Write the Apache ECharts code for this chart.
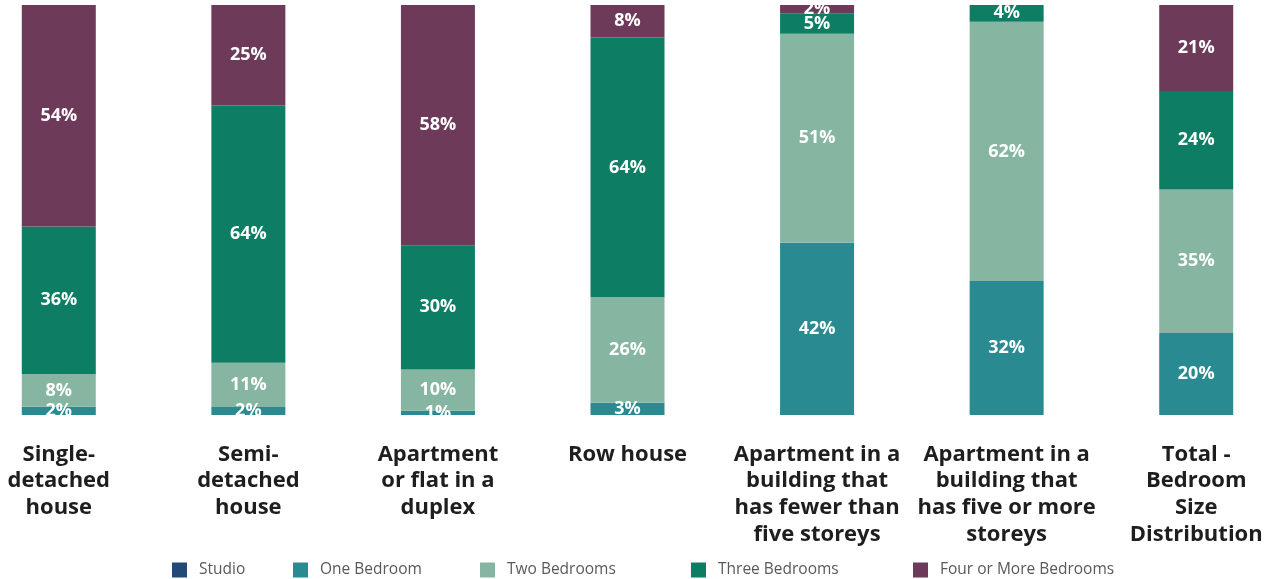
<!DOCTYPE html>
<html>
<head>
<meta charset="utf-8">
<script src="https://cdn.jsdelivr.net/npm/echarts@6/dist/echarts.min.js"></script>
<style>
html, body { margin: 0; padding: 0; background: #fff; }
#main { width: 1271px; height: 579px; }
</style>
</head>
<body>
<div id="main"></div>
<script>
// dwelling types (line breaks as in the picture)
var categories = [
    'Single-\ndetached\nhouse',
    'Semi-\ndetached\nhouse',
    'Apartment\nor flat in a\nduplex',
    'Row house',
    'Apartment in a\nbuilding that\nhas fewer than\nfive storeys',
    'Apartment in a\nbuilding that\nhas five or more\nstoreys',
    'Total -\nBedroom\nSize\nDistribution'
];
// share of dwellings, percent
var studio = [0, 0, 0, 0, 0, 0, 0];
var oneBedroom = [2, 2, 1, 3, 42, 32, 20];
var twoBedrooms = [8, 11, 10, 26, 51, 62, 35];
var threeBedrooms = [36, 64, 30, 64, 5, 4, 24];
var fourPlusBedrooms = [54, 25, 58, 8, 2, 0, 21];

var seriesNames = ['Studio', 'One Bedroom', 'Two Bedrooms', 'Three Bedrooms', 'Four or More Bedrooms'];
var seriesData = [studio, oneBedroom, twoBedrooms, threeBedrooms, fourPlusBedrooms];
var colors = ['#234a77', '#2a8a91', '#86b6a1', '#0d7d64', '#6d3a5a'];
// legend items are not evenly spaced in the original, so one legend each
var legendLeft = [172, 293, 480, 691, 913];

// each column is drawn as 100% (rounded labels don't always add up)
var totals = categories.map(function (c, i) {
    return seriesData.reduce(function (s, arr) { return s + arr[i]; }, 0);
});

var myChart = echarts.init(document.getElementById('main'));

var option = {
    backgroundColor: '#fff',
    color: colors,
    textStyle: { fontFamily: 'Open Sans' },
    legend: seriesNames.map(function (name, k) {
        return {
            data: [name],
            left: legendLeft[k],
            bottom: 1,
            padding: 0,
            icon: 'rect',
            itemWidth: 15,
            itemHeight: 15,
            textStyle: {
                fontSize: 15.5,
                color: '#595959',
                fontFamily: 'Open Sans',
                padding: [0, 0, 0, 7]
            }
        };
    }),
    grid: {
        left: -36,
        width: 1327,
        top: 5,
        bottom: 164,
        containLabel: false,
        outerBoundsMode: 'none'
    },
    xAxis: {
        type: 'category',
        data: categories,
        axisLine: { show: false },
        axisTick: { show: false },
        axisLabel: {
            interval: 0,
            margin: 26,
            fontSize: 22,
            lineHeight: 26.7,
            fontWeight: 'bold',
            color: '#1e1e1e',
            fontFamily: 'Open Sans'
        }
    },
    yAxis: {
        type: 'value',
        min: 0,
        max: 100,
        show: false
    },
    series: seriesData.map(function (arr, k) {
        return {
            name: seriesNames[k],
            type: 'bar',
            stack: 'total',
            barWidth: 74,
            data: arr.map(function (v, i) { return v / totals[i] * 100; }),
            label: {
                show: k > 0,
                position: 'inside',
                color: '#fff',
                fontSize: 18,
                fontWeight: 'bold',
                fontFamily: 'Open Sans',
                formatter: function (p) {
                    var raw = seriesData[k][p.dataIndex];
                    return raw > 0 ? raw + '%' : '';
                }
            }
        };
    })
};

myChart.setOption(option);
</script>
</body>
</html>
